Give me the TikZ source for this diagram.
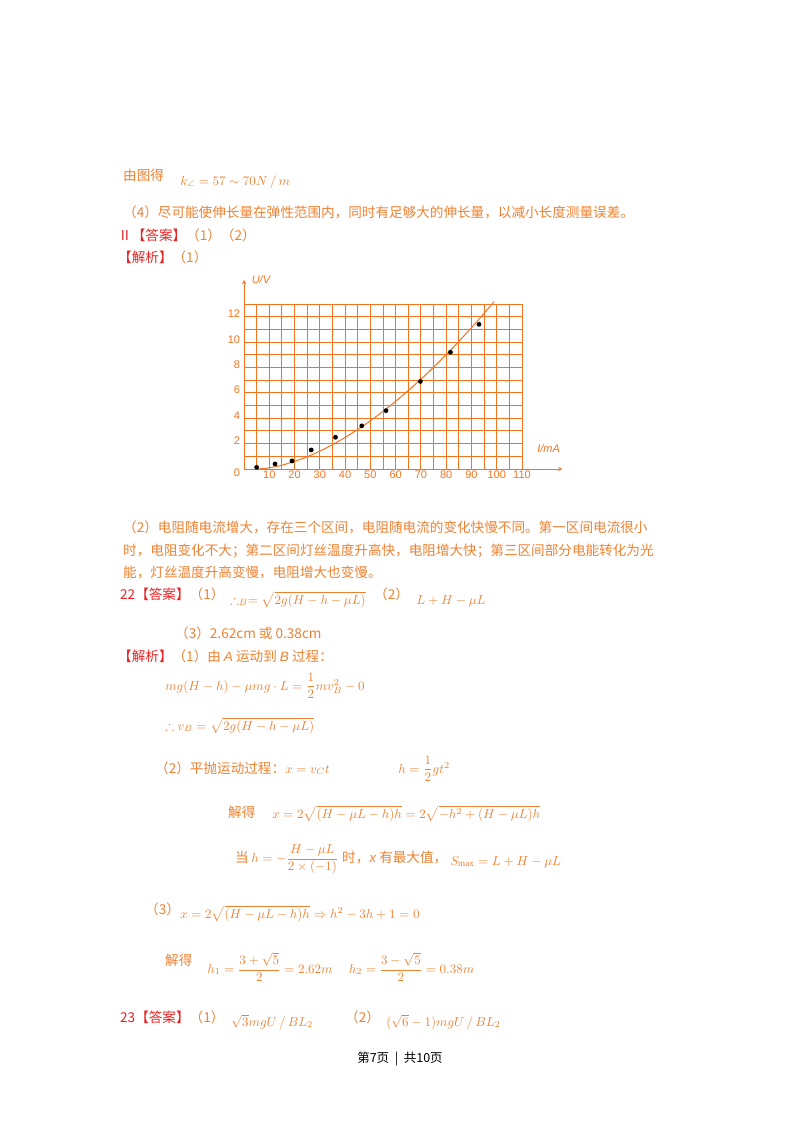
\documentclass[tikz,border=0pt]{standalone}
\usepackage{fontspec}
\usepackage{amsmath,amssymb}
\setmainfont{Liberation Serif}
\setsansfont{Liberation Sans}
\newfontfamily\cjk{Noto Sans CJK SC}
\definecolor{orng}{RGB}{238,130,50}
\definecolor{grd}{RGB}{245,115,30}
\definecolor{rd}{RGB}{232,35,35}
\newcommand{\sit}[1]{{\sffamily\itshape #1}}
\begin{document}
\begin{tikzpicture}[x=1pt,y=-1pt,
 t/.style={anchor=base west,inner sep=0,text=orng,font=\cjk\fontsize{13.6}{15}\selectfont},
 m/.style={anchor=base west,inner sep=0,text=orng,font=\normalsize,transform shape,scale=1.3},
 lab/.style={inner sep=0,text=grd,font=\sffamily\fontsize{11}{13}\selectfont}]
\useasboundingbox[fill=white] (0,0) rectangle (800,1132);
\node[t] (a1) at (123,180) {由图得};
\node[m] (a2) at (180,185) {$k_{\angle}=57\sim70N\,/\,m$};
\node[t] (a3) at (123,217) {（4）尽可能使伸长量在弹性范围内，同时有足够大的伸长量，以减小长度测量误差。};
\node[t] (a4) at (118,240) {\textcolor{rd}{Ⅱ【答案】}（1）（2）};
\node[t] (a5) at (118,262) {\textcolor{rd}{【解析】}（1）};
% graph
\begin{scope}[shift={(244,469)},x=2.527pt,y=12.69pt]
 \foreach \i in {0,5,...,110} \draw[grd,line width=0.9pt] (\i,0) -- (\i,13);
 \foreach \j in {0,...,13} \draw[grd,line width=0.9pt] (0,\j) -- (110,\j);
 \draw[grd,line width=0.9pt,->,>=stealth] (0,0) -- (0,14.9);
 \draw[grd,line width=0.9pt,->,>=stealth] (0,0) -- (126,0);
 \node[lab,anchor=west,font=\sffamily\itshape\fontsize{11}{13}\selectfont] (uv) at (3,14.9) {U/V};
 \node[lab,anchor=west,font=\sffamily\itshape\fontsize{11}{13}\selectfont] (ima) at (116,1.6) {I/mA};
 \foreach \v in {2,4,...,12} \node[lab,anchor=south east] (yl\v) at (-1.5,\v-0.1) {\v};
 \node[lab,anchor=south east] (y0) at (-1.5,-0.6) {0};
 \foreach \v in {10,20,...,110} \node[lab,anchor=north] (xl\v) at (\v,-0.15) {\v};
 \draw[grd,line width=1pt,domain=5:99,samples=60] plot (\x,{13.2*((\x-5)/94)^1.69});
 \foreach \p/\q in {5/0.13,12.3/0.4,19/0.63,26.6/1.5,36.2/2.5,46.6/3.4,56.2/4.6,69.8/6.9,81.7/9.2,93/11.4}
   \fill (\p,\q) circle (2.4pt);
\end{scope}
\node[t] (b1) at (123,532) {（2）电阻随电流增大，存在三个区间，电阻随电流的变化快慢不同。第一区间电流很小};
\node[t] (b2) at (123,555) {时，电阻变化不大；第二区间灯丝温度升高快，电阻增大快；第三区间部分电能转化为光};
\node[t] (b3) at (123,577) {能，灯丝温度升高变慢，电阻增大也变慢。};
\node[t] (c1) at (120,599) {\textcolor{rd}{22【答案】}（1）};
\node[m] (c2) at (230,604) {$\therefore_{B}=\sqrt{2g(H-h-\mu L)}$};
\node[t] (c3) at (374,599) {（2）};
\node[m] (c4) at (416,604) {$L+H-\mu L$};
\node[t] (c5) at (175,638) {（3）2.62cm 或 0.38cm};
\node[t] (c6) at (118,661) {\textcolor{rd}{【解析】}（1）由 \sit{A} 运动到 \sit{B} 过程：};
\node[m] (d1) at (165,690) {$mg(H-h)-\mu mg\cdot L=\dfrac{1}{2}mv_B^2-0$};
\node[m] (d2) at (165,730) {$\therefore v_B=\sqrt{2g(H-h-\mu L)}$};
\node[t] (e1) at (155,773) {（2）平抛运动过程：};
\node[m] (e2) at (285,773) {$x=v_Ct$};
\node[m] (e3) at (398,773) {$h=\dfrac{1}{2}gt^2$};
\node[t] (f1) at (228,817) {解得};
\node[m] (f2) at (272,818) {$x=2\sqrt{(H-\mu L-h)h}=2\sqrt{-h^2+(H-\mu L)h}$};
\node[t] (g1) at (235,862) {当};
\node[m] (g2) at (251,862) {$h=-\dfrac{H-\mu L}{2\times(-1)}$};
\node[t] (g3) at (342,862) {时，\sit{x} 有最大值，};
\node[m] (g4) at (450,865) {$S_{\max}=L+H-\mu L$};
\node[t] (h1) at (145,914) {（3）};
\node[m] (h2) at (180,918) {$x=2\sqrt{(H-\mu L-h)h}\Rightarrow h^2-3h+1=0$};
\node[t] (i1) at (165,965) {解得};
\node[m] (i2) at (207,973) {$h_1=\dfrac{3+\sqrt5}{2}=2.62m\quad\ h_2=\dfrac{3-\sqrt5}{2}=0.38m$};
\node[t] (j1) at (120,1022) {\textcolor{rd}{23【答案】}（1）};
\node[m] (j2) at (231,1026) {$\sqrt{3}mgU\,/\,BL_2$};
\node[t] (j3) at (345,1022) {（2）};
\node[m] (j4) at (386,1026) {$(\sqrt{6}-1)mgU\,/\,BL_2$};
\node[t,anchor=base,text=black,font=\cjk\fontsize{12.5}{14}\selectfont] (pg) at (400,1062) {第7页 ~|~ 共10页};
\end{tikzpicture}
\end{document}
